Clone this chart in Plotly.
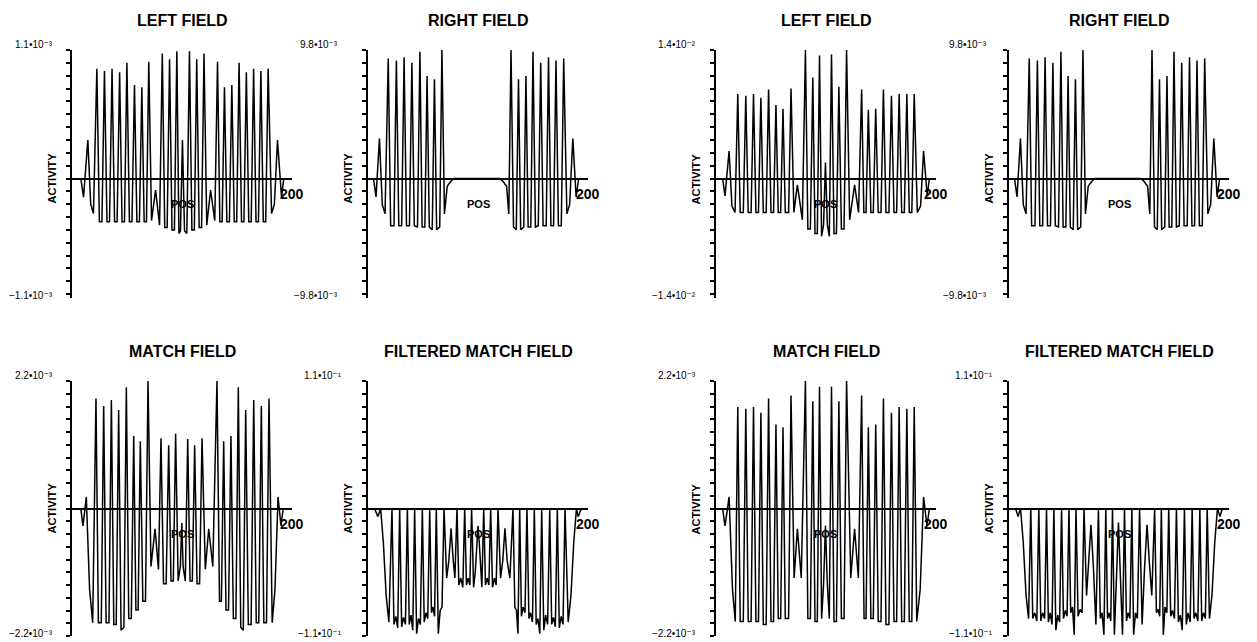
import plotly.graph_objects as go

# ---------------- data ----------------
# Experiment 1 — LEFT FIELD (units of 1e-3)
LEFT1_X = [8, 10.5, 14.4, 17.0, 19.5, 22.6, 24.9, 27.2, 29.5, 31.8, 34.1, 36.4, 38.7, 41.0, 43.3, 45.5, 47.7,
           49.9, 52.2, 54.5, 56.8, 59.0, 61.3, 63.5, 65.6, 67.7, 69.8, 72.3, 76.0, 79.6, 82.1, 84.3, 86.5,
           88.7, 90.9, 93.1, 95.3, 97.2, 98.6, 100.4, 102.3, 104.4, 106.8, 109.0, 111.2, 113.4, 115.6, 117.8,
           120.0, 122.5, 126.0, 129.8, 132.3, 134.4, 136.5, 138.6, 140.8, 143.1, 145.3, 147.5, 149.7, 151.9,
           154.1, 156.3, 158.5, 160.7, 162.9, 165.1, 167.3, 169.5, 171.7, 173.9, 176.1, 178.3, 181.4, 184.0,
           186.8, 190.5, 192.5]
LEFT1_Y = [0, -0.16, 0.33, -0.22, -0.30, 0.94, -0.37, -0.37, 0.92, -0.37, -0.37, 0.94, -0.37, -0.37, 0.91, -0.37, -0.37,
           0.99, -0.37, -0.37, 0.80, -0.37, -0.37, 0.78, -0.37, -0.37, 1.00, -0.36, -0.10, -0.40, 1.07, -0.42, -0.42,
           1.02, -0.44, -0.44, 1.09, -0.47, -0.45, 0.33, -0.45, -0.47, 1.09, -0.44, -0.44, 1.02, -0.42, -0.42,
           1.07, -0.40, -0.10, -0.36, 1.00, -0.37, -0.37, 0.78, -0.37, -0.37, 0.80, -0.37, -0.37, 0.99,
           -0.37, -0.37, 0.91, -0.37, -0.37, 0.94, -0.37, -0.37, 0.92, -0.37, -0.37, 0.94, -0.30, -0.22,
           0.33, -0.16, 0]

# RIGHT FIELD (same in both experiments, units of 1e-3)
RIGHT_X = [5, 7.3, 10.4, 13.0, 15.5, 18.4, 20.6, 23.6, 25.8, 28.0, 30.6, 32.8, 35.0, 37.7, 39.9, 42.1, 45.0,
           47.2, 49.2, 51.7, 53.7, 55.7, 58.4, 60.4, 62.4, 65.2, 67.2, 69.5, 72.0, 75.0, 78.0, 120.0, 123.0,
           126.0, 128.0, 130.0, 132.3, 134.8, 136.8, 138.8, 141.6, 143.6, 145.6, 148.0, 150.0, 152.2, 154.8,
           157.0, 159.2, 162.0, 164.1, 166.3, 168.7, 170.9, 173.1, 175.7, 177.9, 180.8, 183.3, 186.2, 189.2, 191.5]
RIGHT_Y = [0, -1.4, 3.05, -2.0, -2.7, 9.16, -3.6, -3.6, 8.99, -3.6, -3.6, 9.24, -3.6, -3.6, 8.83, -3.6, -3.7,
           9.67, -3.7, -3.7, 7.81, -3.7, -3.9, 7.56, -3.9, -3.7, 9.80, -2.7, -0.6, -0.25, 0, 0, -0.25,
           -0.6, -2.7, 9.80, -3.7, -3.9, 7.56, -3.9, -3.7, 7.81, -3.7, -3.7, 9.67, -3.7, -3.6,
           8.83, -3.6, -3.6, 9.24, -3.6, -3.6, 8.99, -3.6, -3.6, 9.16, -2.7, -2.0, 3.05, -1.4, 0]

# MATCH FIELD, experiment 1 (units of 1e-3)
MATCH1_X = [8, 10, 13, 16, 18.8, 21.8, 24.0, 26.6, 28.8, 31.0, 33.6, 35.8, 38.0, 40.2, 42.4, 44.6, 47.2,
            49.4, 51.6, 53.9, 56.1, 58.1, 60.1, 62.1, 64.4, 66.8, 69.1, 71.8, 75.5, 78.6, 80.9, 83.2, 85.6,
            87.9, 90.0, 92.1, 94.2, 96.5, 98.5, 99.8, 101.0, 103.0, 105.2, 107.3, 109.4, 111.5, 113.7, 116.0,
            118.2, 121.2, 124.3, 128.0, 131.8, 134.1, 135.8, 137.9, 140.0, 142.3, 144.5, 146.7, 149.0, 151.2,
            153.4, 155.7, 157.9, 160.3, 162.8, 165.2, 167.5, 169.8, 172.1, 174.4, 176.8, 179.1, 182.0, 184.5,
            187.3, 190.0, 192.0]
MATCH1_Y = [0, -0.3, 0.2, -1.4, -1.97, 1.90, -1.97, -1.97, 1.77, -1.97, -1.97, 1.87, -2.0, -2.0, 1.70, -2.1, -2.05,
            2.09, -1.9, -1.9, 1.25, -1.75, -1.75, 1.16, -1.6, -1.6, 2.20, -1.0, -0.35, -1.05, 1.21, -1.3, -1.3,
            1.09, -1.25, -1.25, 1.29, -1.25, -1.0, -0.25, -1.0, -1.25, 1.20, -1.25, -1.25, 1.09, -1.3, -1.3,
            1.21, -1.05, -0.35, -1.0, 2.20, -1.6, -1.6, 1.16, -1.75, -1.75, 1.25, -1.9, -1.9, 2.09,
            -2.05, -2.1, 1.70, -2.0, -2.0, 1.87, -1.97, -1.97, 1.77, -1.97, -1.97, 1.90, -1.97, -1.4,
            0.2, -0.3, 0]

# FILTERED MATCH FIELD, experiment 1 (units of 1e-1)
FILT1_X = [6, 9, 11.5, 14, 16.5, 19, 21.8, 23.6, 25.3, 27.0, 28.8, 30.6, 32.3, 34.0, 35.8, 37.5, 39.1, 40.7,
           42.4, 44.2, 45.9, 47.6, 49.4, 51.1, 52.7, 54.3, 56.1, 57.7, 59.1, 60.5, 62.1, 63.9, 65.6, 67.3,
           69.1, 71.5, 73.5, 75.5, 77.5, 79.0, 80.9, 82.6, 84.4, 86.2, 87.9, 89.5, 91.0, 92.6, 94.2, 96.0,
           97.5, 98.8, 100.0, 101.2, 102.5, 103.5, 105.2, 106.8, 108.3, 109.9, 111.5, 113.2, 114.9, 116.5,
           118.2, 120.5, 122.5, 124.5, 126.5, 129.0, 131.8, 133.5, 135.0, 136.3, 137.9, 139.5, 141.0, 142.7,
           144.5, 146.3, 147.8, 149.5, 151.2, 152.9, 154.5, 156.2, 157.9, 159.8, 161.5, 163.3, 165.2, 167.0,
           168.6, 170.3, 172.1, 173.9, 175.6, 177.3, 179.1, 182.0, 184.5, 187.0, 189.5, 191.0, 194.0]
FILT1_Y = [0, -0.07, 0, -0.3, -0.75, -0.98, 0, -1.0, -0.93, -1.03, 0, -1.02, -0.94, -1.0, 0, -1.0, -0.92, -1.05,
           0, -1.08, -0.95, -1.0, 0, -0.98, -0.9, -0.95, 0, -0.9, -0.85, -0.93, 0, -1.08, -0.88, -0.85,
           0, -0.6, -0.45, -0.17, -0.45, -0.6, 0, -0.66, -0.6, -0.68, 0, -0.66, -0.6, -0.66, 0, -0.68,
           -0.55, -0.3, -0.15, -0.3, -0.55, -0.68, 0, -0.66, -0.6, -0.66, 0, -0.68, -0.6, -0.66,
           0, -0.6, -0.45, -0.17, -0.45, -0.6, 0, -0.85, -0.88, -1.08, 0, -0.93, -0.85, -0.9,
           0, -0.95, -0.9, -0.98, 0, -1.0, -0.95, -1.08, 0, -1.05, -0.92, -1.0, 0, -1.0,
           -0.94, -1.02, 0, -1.03, -0.93, -1.0, 0, -0.98, -0.75, -0.3, 0, -0.07, 0]

# Experiment 2 — LEFT FIELD (units of 1e-2)
LEFT2_X = [6, 8.2, 11.9, 14.5, 17.3, 19.8, 22.0, 24.8, 27.1, 29.3, 31.9, 34.1, 36.3, 38.6, 40.8, 43.0, 45.6,
           47.8, 50.0, 52.3, 54.5, 56.6, 58.8, 60.9, 63.0, 66.0, 68.2, 70.8, 74.0, 78.5, 81.3, 83.5, 85.8,
           88.0, 90.0, 92.1, 94.1, 96.0, 97.8, 99.5, 101.2, 103.0, 105.0, 107.3, 109.5, 111.7, 114.0, 116.4,
           118.7, 121.5, 126.0, 129.6, 132.4, 134.4, 136.4, 138.5, 140.8, 143.0, 145.2, 147.5, 150.0, 152.2,
           154.5, 157.2, 159.5, 161.8, 164.2, 166.5, 168.8, 171.2, 173.5, 175.7, 178.0, 180.2, 183.0, 186.0,
           188.7, 192.0, 194.0]
LEFT2_Y = [0, -0.19, 0.30, -0.30, -0.37, 0.92, -0.37, -0.37, 0.90, -0.37, -0.37, 0.92, -0.37, -0.37, 0.88, -0.37, -0.37,
           0.97, -0.37, -0.37, 0.80, -0.37, -0.37, 0.76, -0.37, -0.37, 0.98, -0.37, -0.07, -0.45, 1.40, -0.55, -0.55,
           1.10, -0.60, -0.60, 1.34, -0.63, -0.50, 0.175, -0.50, -0.63, 1.35, -0.60, -0.60, 1.00, -0.55, -0.55,
           1.40, -0.45, -0.07, -0.37, 0.97, -0.37, -0.37, 0.75, -0.37, -0.37, 0.76, -0.37, -0.37, 0.97,
           -0.37, -0.37, 0.90, -0.37, -0.37, 0.92, -0.37, -0.37, 0.92, -0.37, -0.37, 0.92, -0.37, -0.30,
           0.30, -0.19, 0]

# MATCH FIELD, experiment 2 (units of 1e-3)
MATCH2_X = [6, 8.2, 11.9, 15.0, 17.5, 19.8, 22.0, 24.8, 27.1, 29.3, 31.9, 34.1, 36.3, 38.6, 40.8, 43.0, 45.6,
            47.8, 50.0, 52.3, 54.5, 56.6, 58.8, 60.9, 63.0, 66.0, 68.2, 71.0, 74.0, 77.5, 81.3, 83.5, 85.8,
            88.0, 90.0, 92.1, 94.1, 96.0, 97.8, 99.5, 101.2, 103.0, 105.0, 107.3, 109.5, 111.7, 114.0, 116.4,
            118.7, 122.5, 126.0, 129.4, 132.4, 134.6, 136.4, 138.5, 140.8, 143.0, 145.2, 147.5, 150.0, 152.2,
            154.5, 157.2, 159.5, 161.8, 164.2, 166.5, 168.8, 171.2, 173.5, 175.7, 178.0, 180.2, 182.5, 185.6,
            188.7, 191.8, 194.0]
MATCH2_Y = [0, -0.3, 0.2, -1.4, -1.95, 1.75, -1.95, -1.95, 1.72, -1.95, -1.95, 1.75, -1.95, -1.95, 1.65, -2.0, -2.0,
            1.90, -1.95, -1.95, 1.45, -1.9, -1.9, 1.40, -1.9, -1.9, 1.95, -1.2, -0.35, -1.2, 2.20, -1.9, -1.9,
            1.85, -1.95, -1.95, 2.10, -1.9, -1.3, -0.3, -1.3, -1.9, 2.10, -1.95, -1.95, 1.85, -1.9, -1.9,
            2.20, -1.2, -0.35, -1.2, 1.95, -1.9, -1.9, 1.40, -1.9, -1.9, 1.45, -1.95, -1.95, 1.90,
            -2.0, -2.0, 1.65, -1.95, -1.95, 1.75, -1.95, -1.95, 1.72, -1.95, -1.95, 1.75, -1.95, -1.4,
            0.2, -0.3, 0]

# FILTERED MATCH FIELD, experiment 2 (units of 1e-1)
FILT2_X = [6, 8.2, 10.5, 13.0, 15.5, 17.8, 19.8, 21.6, 23.4, 25.3, 27.1, 28.9, 30.6, 32.4, 34.1, 35.8, 37.4, 39.1,
           40.8, 42.6, 44.3, 46.0, 47.8, 49.5, 51.2, 52.8, 54.5, 56.1, 57.7, 59.3, 60.9, 62.8, 64.6, 66.4,
           68.2, 70.5, 72.5, 74.5, 76.7, 79.0, 81.3, 83.0, 84.6, 86.3, 88.0, 89.6, 91.0, 92.5, 94.1, 95.8,
           97.3, 99.5, 101.7, 103.2, 105.0, 106.8, 108.3, 109.9, 111.7, 113.3, 115.0, 116.7, 118.7, 121.0,
           123.3, 125.5, 127.5, 129.8, 132.4, 134.0, 135.6, 137.0, 138.5, 140.3, 141.8, 143.5, 145.2, 147.0,
           148.6, 150.4, 152.2, 154.0, 155.7, 157.5, 159.5, 161.2, 162.8, 164.7, 166.5, 168.2, 169.8, 171.7,
           173.5, 175.2, 176.8, 178.5, 180.2, 182.2, 184.5, 187.0, 189.5, 191.8, 194.0]
FILT2_Y = [0, -0.07, 0, -0.3, -0.75, -0.95, 0, -0.95, -0.9, -0.97, 0, -0.97, -0.9, -0.95, 0, -0.98, -0.9, -1.0,
           0, -1.05, -0.92, -0.98, 0, -0.95, -0.88, -0.93, 0, -0.9, -0.85, -1.09, 0, -0.93, -0.87, -0.9,
           0, -0.75, -0.45, -0.14, -0.5, -1.0, 0, -0.95, -0.9, -1.09, 0, -0.95, -0.9, -0.97, 0, -1.09,
           -0.7, -0.12, -0.7, -1.09, 0, -0.97, -0.9, -0.95, 0, -1.09, -0.9, -0.95, 0, -1.0,
           -0.5, -0.14, -0.45, -0.75, 0, -0.9, -0.87, -0.93, 0, -1.09, -0.85, -0.9, 0, -0.93,
           -0.88, -0.95, 0, -0.98, -0.92, -1.05, 0, -1.0, -0.9, -0.98, 0, -0.95, -0.9, -0.97,
           0, -0.97, -0.9, -0.95, 0, -0.95, -0.75, -0.3, 0, -0.07, 0]

TITLES = ["LEFT FIELD", "RIGHT FIELD", "LEFT FIELD", "RIGHT FIELD",
          "MATCH FIELD", "FILTERED MATCH FIELD", "MATCH FIELD", "FILTERED MATCH FIELD"]
TOP_VALUES = [1.1, 9.8, 1.4, 9.8, 2.2, 1.1, 2.2, 1.1]
TOP_LABELS = ["1.1•10⁻³", "9.8•10⁻³", "1.4•10⁻²", "9.8•10⁻³",
              "2.2•10⁻³", "1.1•10⁻¹", "2.2•10⁻³", "1.1•10⁻¹"]
BOTTOM_LABELS = ["−1.1•10⁻³", "−9.8•10⁻³", "−1.4•10⁻²", "−9.8•10⁻³",
                 "−2.2•10⁻³", "−1.1•10⁻¹", "−2.2•10⁻³", "−1.1•10⁻¹"]
SERIES = [(LEFT1_X, LEFT1_Y), (RIGHT_X, RIGHT_Y), (LEFT2_X, LEFT2_Y), (RIGHT_X, RIGHT_Y),
          (MATCH1_X, MATCH1_Y), (FILT1_X, FILT1_Y), (MATCH2_X, MATCH2_Y), (FILT2_X, FILT2_Y)]
X_MAX = 200

# ---------------- layout geometry (pixels) ----------------
W, H = 1257, 642
COL_LEFT = [72, 368, 716, 1009]
PANEL_W = 220
ROWS = [(50, 298), (381, 636)]
BOTTOM_FRAC = [0.93, 1.0]          # lower extent relative to top value
LABEL_GAP = [17, 28, 18, 20, 17, 24, 18, 14]

FONT = "Arial, Liberation Sans, DejaVu Sans, sans-serif"
fig = go.Figure()
annotations = []
layout = {}

for i in range(8):
    r, c = divmod(i, 4)
    n = i + 1
    ax = "" if n == 1 else str(n)
    left = COL_LEFT[c]
    top, bottom = ROWS[r]
    xd = [left / W, (left + PANEL_W) / W]
    yd = [1 - bottom / H, 1 - top / H]
    V = TOP_VALUES[i]
    ymin = -V * BOTTOM_FRAC[r]
    kmin = -9 if r == 0 else -10
    ticks = [V * k / 10 for k in range(kmin, 11)]
    layout["xaxis" + ax] = dict(domain=xd, range=[0, X_MAX], anchor="y" + ax, showgrid=False,
                                zeroline=False, showline=False, showticklabels=False, ticks="")
    layout["yaxis" + ax] = dict(domain=yd, range=[ymin, V], anchor="x" + ax, showgrid=False,
                                zeroline=True, zerolinecolor="black", zerolinewidth=2,
                                showline=True, linecolor="black", linewidth=2,
                                ticks="outside", ticklen=4, tickwidth=1.5, tickcolor="black",
                                tickvals=ticks, showticklabels=False)
    xs, ys = SERIES[i]
    fig.add_trace(go.Scatter(x=xs, y=ys, mode="lines", line=dict(color="black", width=1.5),
                             xaxis="x" + ax, yaxis="y" + ax, showlegend=False, hoverinfo="skip"))
    # title
    annotations.append(dict(text="<b>" + TITLES[i] + "</b>", xref="paper", yref="paper",
                            x=(left + PANEL_W / 2) / W, y=1 - (top - 29) / H,
                            xanchor="center", yanchor="middle", showarrow=False,
                            font=dict(family=FONT, size=16, color="black")))
    # end labels of y axis
    annotations.append(dict(text=TOP_LABELS[i], xref="x" + ax + " domain", yref="y" + ax,
                            x=0, y=V, xanchor="right", yanchor="middle", xshift=-LABEL_GAP[i], yshift=6,
                            showarrow=False, font=dict(family=FONT, size=10, color="black")))
    annotations.append(dict(text=BOTTOM_LABELS[i], xref="x" + ax + " domain", yref="y" + ax,
                            x=0, y=ymin, xanchor="right", yanchor="middle", xshift=-LABEL_GAP[i], yshift=3,
                            showarrow=False, font=dict(family=FONT, size=10, color="black")))
    # ACTIVITY
    annotations.append(dict(text="<b>ACTIVITY</b>", xref="x" + ax + " domain", yref="y" + ax,
                            x=0, y=0, xanchor="center", yanchor="middle", xshift=-21, textangle=-90,
                            showarrow=False, font=dict(family=FONT, size=11, color="black")))
    # POS
    annotations.append(dict(text="<b>POS</b>", xref="x" + ax, yref="y" + ax, x=X_MAX / 2, y=0,
                            xanchor="center", yanchor="middle", yshift=-25, showarrow=False,
                            font=dict(family=FONT, size=11, color="black")))
    # 200
    annotations.append(dict(text="<b>" + str(X_MAX) + "</b>", xref="x" + ax, yref="y" + ax, x=X_MAX, y=0,
                            xanchor="center", yanchor="middle", yshift=-15, showarrow=False,
                            font=dict(family=FONT, size=14, color="black")))

fig.update_layout(width=W, height=H, margin=dict(l=0, r=0, t=0, b=0),
                  paper_bgcolor="white", plot_bgcolor="white",
                  annotations=annotations, **layout)
fig.write_html("out.html")
